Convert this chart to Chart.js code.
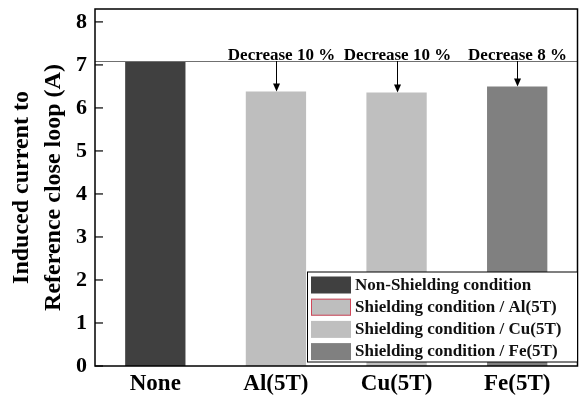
<!DOCTYPE html>
<html>
<head>
<meta charset="utf-8">
<script src="https://cdn.jsdelivr.net/npm/chart.js@4/dist/chart.umd.min.js"></script>
<style>
html,body{margin:0;padding:0;background:#fff;}
#wrap{width:579px;height:395px;position:relative;}
</style>
</head>
<body>
<div id="wrap"><canvas id="c"></canvas></div>
<script>
// ---- data ----
const categories = ['None', 'Al(5T)', 'Cu(5T)', 'Fe(5T)'];
const currentValues = [7.09, 6.38, 6.36, 6.50];
const decreaseLabels = ['', 'Decrease 10 %', 'Decrease 10 %', 'Decrease 8 %'];
const legendLabels = ['Non-Shielding condition', 'Shielding condition / Al(5T)', 'Shielding condition / Cu(5T)', 'Shielding condition / Fe(5T)'];
const yTicks = [0, 1, 2, 3, 4, 5, 6, 7, 8];
const yTitle = ['Induced current to', 'Reference close loop (A)'];

// ---- styles ----
const barColors = ['#404040', '#bebebe', '#bfbfbf', '#808080'];
const legendBorders = ['#404040', '#d0485a', '#bfbfbf', '#808080'];
const SERIF = '"Liberation Serif", "Times New Roman", serif';

const decorPlugin = {
  id: 'decor',
  afterDatasetsDraw(chart) {
    const ctx = chart.ctx;
    const area = chart.chartArea;
    const x = chart.scales.x, y = chart.scales.y;
    ctx.save();
    // reference line at non-shielding value
    const refY = y.getPixelForValue(currentValues[0]);
    ctx.strokeStyle = '#707070';
    ctx.lineWidth = 1;
    ctx.beginPath();
    ctx.moveTo(area.left, Math.round(refY) + 0.5);
    ctx.lineTo(area.right, Math.round(refY) + 0.5);
    ctx.stroke();
    // arrows + labels
    ctx.font = 'bold 17px ' + SERIF;
    ctx.textAlign = 'center';
    ctx.textBaseline = 'alphabetic';
    for (let i = 1; i < categories.length; i++) {
      const cx = Math.round(x.getPixelForValue(i)) + 0.5;
      const top = y.getPixelForValue(currentValues[i]);
      ctx.strokeStyle = '#000';
      ctx.fillStyle = '#000';
      ctx.lineWidth = 1;
      ctx.beginPath();
      ctx.moveTo(cx, refY);
      ctx.lineTo(cx, top - 6);
      ctx.stroke();
      ctx.beginPath();
      ctx.moveTo(cx - 3.5, top - 8);
      ctx.lineTo(cx + 3.5, top - 8);
      ctx.lineTo(cx, top);
      ctx.closePath();
      ctx.fill();
      ctx.fillText(decreaseLabels[i], cx + (i === 1 ? 5 : 0), refY - 1);
    }
    // frame
    ctx.strokeStyle = '#000';
    ctx.lineWidth = 1.5;
    ctx.strokeRect(area.left, area.top, area.right - area.left, area.bottom - area.top);
    // inward y ticks
    ctx.lineWidth = 1.2;
    yTicks.forEach(v => {
      const py = y.getPixelForValue(v);
      ctx.beginPath();
      ctx.moveTo(area.left, py);
      ctx.lineTo(area.left + 8, py);
      ctx.stroke();
    });
    ctx.restore();
  },
  afterDraw(chart) {
    const ctx = chart.ctx;
    const area = chart.chartArea;
    ctx.save();
    const bx = 307.5, by = 272, bw = area.right - 307.5, bh = 90;
    ctx.fillStyle = '#fff';
    ctx.fillRect(bx, by, bw, bh);
    ctx.strokeStyle = '#000';
    ctx.lineWidth = 1;
    ctx.strokeRect(bx, by, bw, bh);
    ctx.font = 'bold 17px ' + SERIF;
    ctx.textAlign = 'left';
    ctx.textBaseline = 'middle';
    legendLabels.forEach((lab, i) => {
      const cy = by + 12.5 + i * 22.2;
      ctx.fillStyle = barColors[i];
      ctx.fillRect(311, cy - 8, 40, 17);
      if (i === 1) {
        ctx.strokeStyle = legendBorders[i];
        ctx.lineWidth = 1;
        ctx.strokeRect(311.5, cy - 7.5, 39, 16);
      }
      ctx.fillStyle = '#111';
      ctx.fillText(lab, 355, cy + 1);
    });
    ctx.restore();
  }
};

new Chart(document.getElementById('c'), {
  type: 'bar',
  data: {
    labels: categories,
    datasets: [{
      data: currentValues,
      backgroundColor: barColors,
      borderWidth: 0,
      barPercentage: 1,
      categoryPercentage: 0.5
    }]
  },
  options: {
    responsive: true,
    maintainAspectRatio: false,
    animation: false,
    events: [],
    layout: { padding: { top: 9, right: 1.5, left: 0, bottom: 0 } },
    plugins: { legend: { display: false }, tooltip: { enabled: false } },
    scales: {
      x: {
        grid: { display: false, drawTicks: false },
        border: { display: false },
        ticks: { color: '#000', padding: 4, font: { family: SERIF, size: 23, weight: 'bold' } },
        afterFit(s) { s.height = 29; s.paddingLeft = 0; s.paddingRight = 0; }
      },
      y: {
        min: 0,
        max: 8.3,
        grid: { display: false, drawTicks: false },
        border: { display: false },
        afterBuildTicks(s) { s.ticks = yTicks.map(v => ({ value: v })); },
        ticks: { color: '#000', padding: 8, font: { family: SERIF, size: 22, weight: 'bold' } },
        title: {
          display: true,
          text: yTitle,
          color: '#000',
          padding: { top: 6, bottom: 0 },
          font: { family: SERIF, size: 24, weight: 'bold', lineHeight: 1.33 }
        },
        afterFit(s) { s.width = 95; s.paddingTop = 0; s.paddingBottom = 0; }
      }
    }
  },
  plugins: [decorPlugin]
});
</script>
</body>
</html>
